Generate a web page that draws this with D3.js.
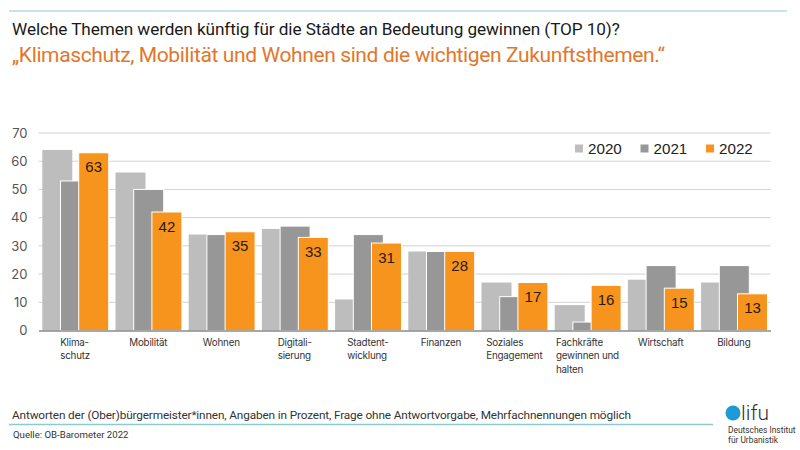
<!DOCTYPE html>
<html>
<head>
<meta charset="utf-8">
<script src="https://cdn.jsdelivr.net/npm/d3@7"></script>
<style>
  html, body { margin: 0; padding: 0; background: #fff; }
  text { font-family: "Inter", "Liberation Sans", sans-serif; }
  .narrow { font-family: "Roboto", sans-serif; }
  .plain { font-family: "Liberation Sans", sans-serif; }
</style>
</head>
<body>
<svg id="chart" width="800" height="450"></svg>
<script>
const categories = ["Klima-\nschutz", "Mobilität", "Wohnen", "Digitali-\nsierung", "Stadtent-\nwicklung",
    "Finanzen", "Soziales\nEngagement", "Fachkräfte\ngewinnen und\nhalten", "Wirtschaft", "Bildung"];
const years = ["2020", "2021", "2022"];
const values2020 = [64, 56, 34, 36, 11, 28, 17, 9, 18, 17];
const values2021 = [53, 50, 34, 37, 34, 28, 12, 3, 23, 23];
const values2022 = [63, 42, 35, 33, 31, 28, 17, 16, 15, 13];
const yTicks = [0, 10, 20, 30, 40, 50, 60, 70];

const colors = d3.scaleOrdinal().domain(years).range(["#bdbdbd", "#979797", "#f7941d"]);
const series = [values2020, values2021, values2022];

const svg = d3.select("#chart");

// header + footer lines
svg.append("line").attr("x1", 9).attr("x2", 787).attr("y1", 11).attr("y2", 11)
    .attr("stroke", "#8ccbd2").attr("stroke-width", 1.2);
svg.append("line").attr("x1", 9).attr("x2", 713).attr("y1", 424.5).attr("y2", 424.5)
    .attr("stroke", "#8ccbd2").attr("stroke-width", 1.5);

svg.append("text").attr("class", "narrow").attr("x", 12).attr("y", 35).attr("font-size", 17.2)
    .attr("letter-spacing", -0.09).attr("fill", "#1a1a1a")
    .text("Welche Themen werden künftig für die Städte an Bedeutung gewinnen (TOP 10)?");
svg.append("text").attr("class", "narrow").attr("x", 12).attr("y", 62).attr("font-size", 21)
    .attr("letter-spacing", -0.38).attr("fill", "#e2772b")
    .text("„Klimaschutz, Mobilität und Wohnen sind die wichtigen Zukunftsthemen.“");

const x = d3.scaleBand().domain(categories).range([38.5, 770.5]);
const y = d3.scaleLinear().domain([0, 70]).range([330.5, 133]);
// bars overlap, so the offsets run on a narrower scale than the bar width
const inner = d3.scalePoint().domain(years).range([3.8, 40.2]);
const barW = 30;

// gridlines
svg.append("g").selectAll("line").data(yTicks.filter(d => d > 0)).join("line")
    .attr("x1", 38.5).attr("x2", 770.5)
    .attr("y1", d => y(d)).attr("y2", d => y(d))
    .attr("stroke", "#d2d2d2").attr("stroke-width", 1);

// y axis
const yAxis = svg.append("g").attr("transform", "translate(38.5,0)")
    .call(d3.axisLeft(y).tickValues(yTicks).tickSize(0).tickPadding(11));
yAxis.select(".domain").remove();
yAxis.selectAll("text").attr("font-size", 13).attr("fill", "#555");

// bars
years.forEach((yr, i) => {
    svg.append("g").selectAll("rect").data(series[i]).join("rect")
        .attr("x", (d, j) => x(categories[j]) + inner(yr))
        .attr("y", d => y(d))
        .attr("width", barW)
        .attr("height", d => y(0) - y(d))
        .attr("fill", colors(yr))
        .attr("stroke", i === 0 ? "none" : "#fff")
        .attr("stroke-width", 1);
});

// value labels for 2022
svg.append("g").selectAll("text").data(values2022).join("text")
    .attr("class", "plain")
    .attr("x", (d, j) => x(categories[j]) + inner("2022") + barW / 2)
    .attr("y", d => y(d) + 19.5)
    .attr("text-anchor", "middle")
    .attr("font-size", 15).attr("fill", "#2a1a0a")
    .text(d => d);

// x axis
const xAxis = svg.append("g").attr("transform", "translate(0,330.5)")
    .call(d3.axisBottom(x).tickSize(0).tickFormat(""));
xAxis.select(".domain").attr("stroke", "#8a8a8a").attr("stroke-width", 1.5);

// category labels: block is centred, lines inside are left aligned
xAxis.selectAll(".tick text").each(function (d) {
    const t = d3.select(this).text(null).attr("text-anchor", "start")
        .attr("font-size", 9.8).attr("letter-spacing", -0.2).attr("fill", "#333").attr("y", 0).attr("dy", null);
    d.split("\n").forEach((line, i) => {
        t.append("tspan").attr("x", 0).attr("y", 15 + i * 13.5).text(line);
    });
    const w = this.getBBox().width;
    t.attr("transform", `translate(${-w / 2},0)`);
});

// legend
const legendX = d3.scalePoint().domain(years).range([575, 706]);
const legend = svg.append("g").selectAll("g").data(years).join("g")
    .attr("transform", d => `translate(${legendX(d)},148.5)`);
legend.append("rect").attr("y", -4).attr("width", 8).attr("height", 8).attr("fill", d => colors(d));
legend.append("text").attr("class", "plain").attr("x", 13).attr("y", 5.5).attr("font-size", 15.2)
    .attr("fill", "#222").text(d => d);

// footer
svg.append("text").attr("class", "narrow").attr("x", 12).attr("y", 419).attr("font-size", 11.8)
    .attr("letter-spacing", -0.14).attr("fill", "#333")
    .text("Antworten der (Ober)bürgermeister*innen, Angaben in Prozent, Frage ohne Antwortvorgabe, Mehrfachnennungen möglich");
svg.append("text").attr("class", "narrow").attr("x", 13).attr("y", 438).attr("font-size", 9.6).attr("fill", "#333")
    .text("Quelle: OB-Barometer 2022");

// logo
svg.append("circle").attr("cx", 733).attr("cy", 413).attr("r", 7.5).attr("fill", "#1e9bd7");
svg.append("text").attr("class", "narrow").attr("x", 741).attr("y", 420).attr("font-size", 21).attr("font-weight", 300)
    .attr("fill", "#333").text("lifu");
svg.append("text").attr("class", "narrow").attr("x", 728).attr("y", 433).attr("font-size", 8.4).attr("fill", "#333").text("Deutsches Institut");
svg.append("text").attr("class", "narrow").attr("x", 728).attr("y", 443).attr("font-size", 8.4).attr("fill", "#333").text("für Urbanistik");
</script>
</body>
</html>
